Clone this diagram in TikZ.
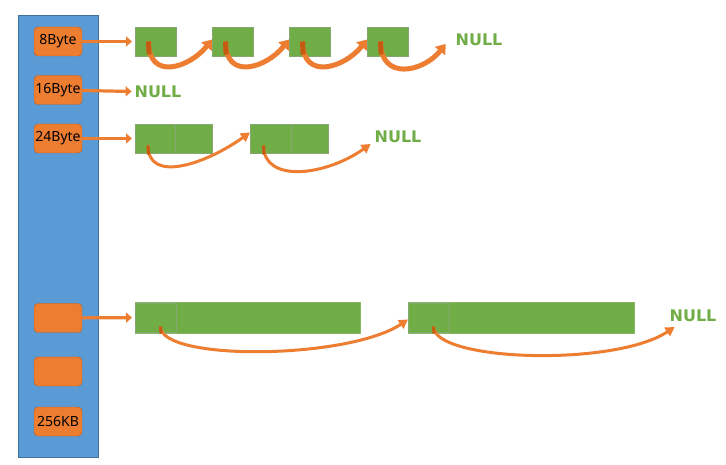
\documentclass[tikz,border=0pt]{standalone}
\usepackage{fontspec}
\usepackage{tikz}
\usetikzlibrary{arrows.meta,positioning}
\newfontfamily\boxfont{Noto Sans}
\newfontfamily\nilfont{DejaVu Sans}
\definecolor{poolblue}{HTML}{5B9BD5}
\definecolor{pooledge}{HTML}{41719C}
\definecolor{slotor}{HTML}{ED7D31}
\definecolor{slotedge}{HTML}{C55A11}
\definecolor{memgreen}{HTML}{70AD47}
\definecolor{memedge}{HTML}{548235}

\begin{document}
\begin{tikzpicture}[x=1pt, y=1pt,
    every node/.style={inner sep=0pt, outer sep=0pt},
    pool/.style={draw=pooledge, fill=poolblue, minimum width=80pt, minimum height=442pt},
    slot/.style={draw=slotedge, fill=slotor, rounded corners=4pt, minimum width=48pt,
      minimum height=29pt, font=\boxfont\fontsize{14}{16}\selectfont},
    cell/.style={draw=memedge!70, fill=memgreen, minimum height=29pt},
    nil/.style={text=memgreen, font=\nilfont\bfseries\fontsize{16}{18}\selectfont},
    link/.style={draw=slotor, line width=3.2pt, shorten >=3pt,
      -{Triangle[width=10pt,length=6pt]}},
    hop/.style={draw=slotor, line width=5pt, -{Triangle[width=13pt,length=9pt]}},
    longhop/.style={draw=slotor, line width=3pt, -{Triangle[width=10pt,length=9pt]}},
    stub/.style={draw=slotedge, line width=#1},
    stub/.default=5pt]
\useasboundingbox (0,0) rectangle (726,464);

% free list heads
\node[pool] (pool) at (58,228) {};
\node[slot] (s8)   at (58,422.5) {8Byte};
\node[slot] (s16)  at (58,374)   {16Byte};
\node[slot] (s24)  at (58,325.5) {24Byte};
\node[slot] (sbig) at (58,146)   {};
\node[slot] (sgap) at (58,92.5)  {};
\node[slot] (s256) at (58,42.5)  {256KB};

% 8 byte blocks
\node[cell, minimum width=41pt] (a1) at (155.5,422.5) {};
\node[cell, minimum width=41pt] (a2) at (232.5,422.5) {};
\node[cell, minimum width=41pt] (a3) at (309.5,422.5) {};
\node[cell, minimum width=41pt] (a4) at (387.5,422.5) {};
\node[nil] (n1) at (479,424) {NULL};

% 16 byte
\node[nil] (n2) at (158,372) {NULL};

% 24 byte blocks
\node[cell, minimum width=40pt] (c1) at (155,325.5)   {};
\node[cell, minimum width=37pt] (c2) at (193.5,325.5) {};
\node[cell, minimum width=41pt] (c3) at (270.5,325.5) {};
\node[cell, minimum width=37pt] (c4) at (309.5,325.5) {};
\node[nil] (n3) at (398,327) {NULL};

% large blocks
\node[cell, draw=memgreen!85!white, minimum width=225pt, minimum height=31pt] (b1) at (247.5,146.5) {};
\node[cell, minimum width=41pt] (b1h) at (155.5,146.5) {};
\node[cell, draw=memgreen!85!white, minimum width=226pt, minimum height=31pt] (b2) at (521,146.5) {};
\node[cell, minimum width=41pt] (b2h) at (428.5,146.5) {};
\node[nil] (n4) at (693,148) {NULL};

\draw[link] (s8)   -- (a1);
\draw[link] (s16)  -- (n2);
\draw[link] (s24)  -- (c1);
\draw[link] (sbig) -- (b1h);

\foreach \from/\to in {a1/a2, a2/a3, a3/a4} {
  \draw[hop] ([xshift=-7pt]\from.center) .. controls +(0,-40) and +(-22,-28) .. ([yshift=2pt]\to.west);
  \draw[stub] ([xshift=-7pt]\from.center) -- +(0.6,-13);
}
\draw[hop] ([xshift=-7pt]a4.center) .. controls +(0,-40) and +(-22,-28) .. ([shift={(-10,-4)}]n1.west);
\draw[stub] ([xshift=-7pt]a4.center) -- +(0.6,-13);

\draw[longhop] ([shift={(-7,-7)}]c1.center) .. controls +(0,-38) and +(-45,-32) .. ([yshift=6pt]c3.west);
\draw[longhop] ([shift={(-7,-7)}]c3.center) .. controls +(0,-38) and +(-45,-32) .. ([shift={(-4,-7)}]n3.west);
\draw[stub=3pt] ([shift={(-7,-7)}]c1.center) -- +(0.5,-9);
\draw[stub=3pt] ([shift={(-7,-7)}]c3.center) -- +(0.5,-9);

\draw[longhop] ([shift={(5,-9)}]b1h.center) .. controls +(0,-35) and +(-60,-40) .. ([yshift=-2pt]b2h.west);
\draw[longhop] ([shift={(5,-9)}]b2h.center) .. controls +(0,-35) and +(-60,-40) .. ([shift={(5,-11)}]n4.west);
\draw[stub=3pt] ([shift={(5,-9)}]b1h.center) -- +(0.5,-7);
\draw[stub=3pt] ([shift={(5,-9)}]b2h.center) -- +(0.5,-7);
\end{tikzpicture}
\end{document}
